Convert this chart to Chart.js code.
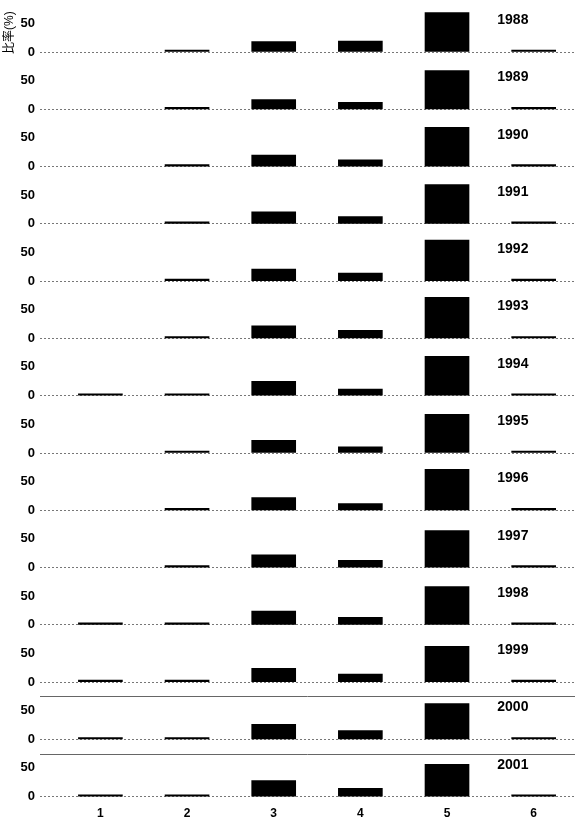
<!DOCTYPE html>
<html>
<head>
<meta charset="utf-8">
<script src="https://cdn.jsdelivr.net/npm/chart.js@4"></script>
<style>
  html, body { margin: 0; padding: 0; background: #fff; }
  #wrap { width: 579px; height: 820px; }
</style>
</head>
<body>
<div id="wrap"><canvas id="shareChart"></canvas></div>
<script>
// categories on the x axis and the yearly panels
const CATS = [1, 2, 3, 4, 5, 6];
const YEARS = [1988, 1989, 1990, 1991, 1992, 1993, 1994, 1995, 1996, 1997, 1998, 1999, 2000, 2001];

// share (%) per category, one value per year (null = no bar)
const SHARE_1 = [null, null, null, null, null, null, 2, null, null, null, 2, 1.5, 1.5, 1.5];
const SHARE_2 = [1.5, 1, 1.5, 1.5, 1, 1, 2, 1, 1, 2, 2, 2.5, 3, 3];
const SHARE_3 = [18, 17, 20, 21, 21, 22, 25, 22, 22, 22, 24, 24, 26, 28];
const SHARE_4 = [19, 12, 11.5, 12.5, 14, 14, 11.5, 10.5, 11.5, 12.5, 13, 14, 15.5, 14.5];
const SHARE_5 = [68, 67, 68, 68, 71, 71, 68, 67, 71, 64, 66, 62, 62, 56];
const SHARE_6 = [1.5, 1.5, 1.5, 1.5, 2, 1.5, 1.5, 1.5, 1.5, 1.5, 1.5, 1.5, 1.5, 1.5];

const Y_TICKS = [0, 50];
const Y_TITLE = '比率(%)';

const SERIES = [SHARE_1, SHARE_2, SHARE_3, SHARE_4, SHARE_5, SHARE_6];
const FONT = "'Liberation Sans', Arial, 'Noto Sans CJK JP', sans-serif";

const datasets = YEARS.map((yr, i) => ({
  label: String(yr),
  data: CATS.map((c, j) => ({ x: c, y: SERIES[j][i] })),
  yAxisID: 'y' + yr,
  xAxisID: 'x',
  grouped: false,
  backgroundColor: '#000',
  borderWidth: 0,
  barThickness: 44,
  minBarLength: 2,
}));

const scales = {
  x: {
    type: 'linear',
    position: 'bottom',
    offset: false,
    min: 0.303,
    max: 6.477,
    afterBuildTicks: s => { s.ticks = CATS.map(v => ({ value: v })); },
    afterFit: s => { s.height = 14; s.paddingLeft = 0; s.paddingRight = 0; },
    grid: { display: false, drawTicks: false },
    border: { display: false },
    ticks: { color: '#000', padding: 0, font: { family: FONT, size: 12, weight: 'bold' } },
  },
};

// stacked y axes: first defined goes to the bottom
[...YEARS].reverse().forEach(yr => {
  scales['y' + yr] = {
    type: 'linear',
    position: 'left',
    stack: 'years',
    stackWeight: 1,
    min: -16,
    max: 83,
    afterBuildTicks: s => { s.ticks = Y_TICKS.map(v => ({ value: v })); },
    afterFit: s => { s.width = 40; s.paddingTop = 0; s.paddingBottom = 0; },
    grid: {
      drawTicks: false,
      color: ctx => (ctx.tick && ctx.tick.value === 0) ? '#777' : 'rgba(0,0,0,0)',
      lineWidth: 1,
    },
    border: { display: false, dash: [2, 2] },
    ticks: { color: '#000', padding: 5, font: { family: FONT, size: 13, weight: 'bold' } },
    title: {
      display: yr === YEARS[0],
      text: Y_TITLE,
      color: '#000',
      padding: { top: 2, bottom: 0 },
      font: { family: FONT, size: 12 },
    },
  };
});

// year captions and the two framed panels at the bottom
const yearLabels = {
  id: 'yearLabels',
  afterDatasetsDraw(chart) {
    const { ctx, scales: sc, chartArea } = chart;
    ctx.save();
    ctx.font = 'bold 14px ' + FONT;
    ctx.fillStyle = '#000';
    ctx.textAlign = 'left';
    ctx.textBaseline = 'middle';
    YEARS.forEach(yr => {
      const ys = sc['y' + yr];
      ctx.fillText(String(yr), sc.x.getPixelForValue(5.58), ys.getPixelForValue(55));
    });
    ctx.strokeStyle = '#666';
    ctx.lineWidth = 1;
    [2000, 2001].forEach(yr => {
      const top = Math.round(sc['y' + yr].top + 5) + 0.5;
      ctx.beginPath();
      ctx.moveTo(chartArea.left, top);
      ctx.lineTo(chartArea.right, top);
      ctx.stroke();
    });
    ctx.restore();
  },
};

new Chart(document.getElementById('shareChart'), {
  type: 'bar',
  data: { datasets },
  options: {
    responsive: true,
    maintainAspectRatio: false,
    animation: false,
    layout: { padding: { top: 4, right: 4, bottom: 0, left: 0 } },
    plugins: { legend: { display: false }, tooltip: { enabled: false } },
    scales,
  },
  plugins: [yearLabels],
});
</script>
</body>
</html>
